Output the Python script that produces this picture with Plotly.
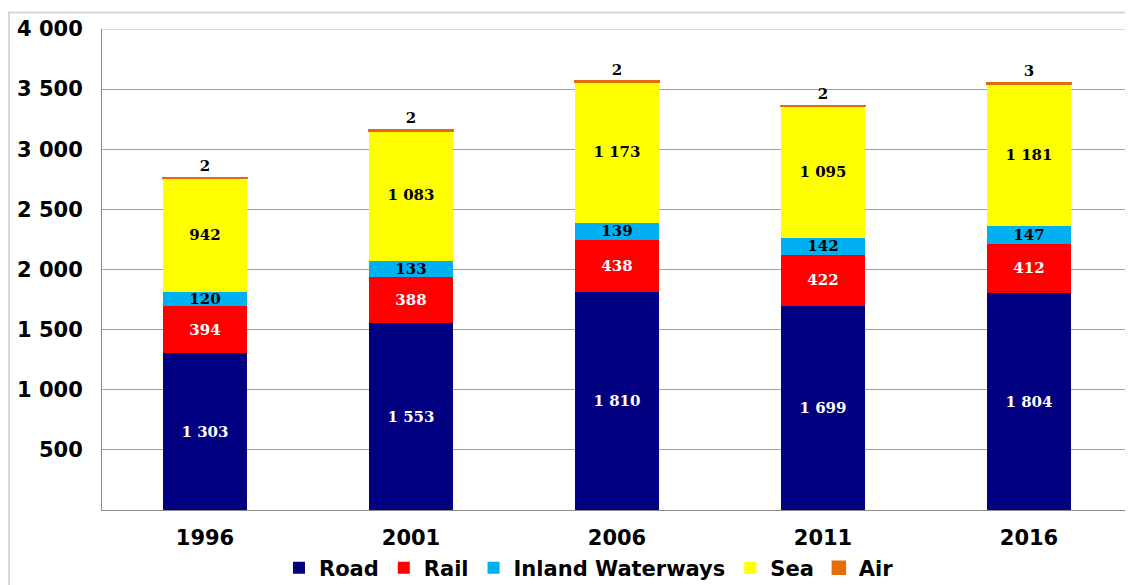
import plotly.graph_objects as go

years = ["1996", "2001", "2006", "2011", "2016"]
road = [1303, 1553, 1810, 1699, 1804]
rail = [394, 388, 438, 422, 412]
inland = [120, 133, 139, 142, 147]
sea = [942, 1083, 1173, 1095, 1181]
air = [2, 2, 2, 2, 3]

series = [
    ("Road", road, "#000080", "white"),
    ("Rail", rail, "#FF0000", "white"),
    ("Inland Waterways", inland, "#00B0F0", "black"),
    ("Sea", sea, "#FFFF00", "black"),
    ("Air", air, "#E46C0A", "black"),
]

y_ticks = [500, 1000, 1500, 2000, 2500, 3000, 3500, 4000]
y_ticktext = ["500", "1 000", "1 500", "2 000", "2 500", "3 000", "3 500", "4 000"]


def fmt(v):
    return f"{v:,}".replace(",", " ")


fig = go.Figure()
for name, vals, color, tcolor in series:
    is_top = name == "Air"
    fig.add_trace(go.Bar(
        x=years, y=vals, name=name,
        marker=dict(color=color, line=dict(width=2.5 if is_top else 0, color=color)),
        text=[fmt(v) for v in vals],
        textposition="outside" if is_top else "inside",
        insidetextanchor="middle",
        constraintext="none",
        cliponaxis=False,
        textfont=dict(family="DejaVu Serif", size=15, color=tcolor, weight="bold"),
        outsidetextfont=dict(family="DejaVu Serif", size=15, color="black", weight="bold"),
        hoverinfo="skip",
    ))

fig.update_layout(
    barmode="stack",
    bargap=0.597,
    width=1133, height=585,
    margin=dict(l=94, r=9, t=21, b=83, autoexpand=False),
    paper_bgcolor="white",
    plot_bgcolor="white",
    uniformtext=dict(minsize=15, mode="show"),
    font=dict(family="DejaVu Sans", size=19, color="black"),
    showlegend=True,
    legend=dict(
        orientation="h", x=0.4728, xanchor="center", y=-0.1206, yanchor="middle",
        font=dict(family="DejaVu Sans", size=21, color="black", weight="bold"),
        itemwidth=30, traceorder="normal",
    ),
    xaxis=dict(
        showgrid=False, showline=True, linecolor="#8c8c8c", linewidth=1,
        ticks="", tickfont=dict(family="DejaVu Sans", size=21, weight="bold"),
        ticklabelstandoff=9, automargin=False,
    ),
    yaxis=dict(
        range=[0, 4000], tickvals=y_ticks, ticktext=y_ticktext,
        showgrid=True, gridcolor="#a0a0a0", gridwidth=1,
        zeroline=False, showline=True, linecolor="#8c8c8c", linewidth=1,
        ticks="", tickfont=dict(family="DejaVu Sans", size=21, weight="bold"),
        ticklabelstandoff=14, automargin=False,
    ),
    shapes=[
        dict(type="line", xref="paper", yref="y", x0=0, x1=1.01, y0=4000, y1=4000,
             line=dict(color="#d9d9d9", width=2), layer="above"),
        dict(type="rect", xref="paper", yref="paper", x0=-0.0903, x1=1.05,
             y0=-0.4, y1=1.0343, line=dict(color="#d9d9d9", width=2), layer="below"),
    ],
)

fig.write_html("out.html")
